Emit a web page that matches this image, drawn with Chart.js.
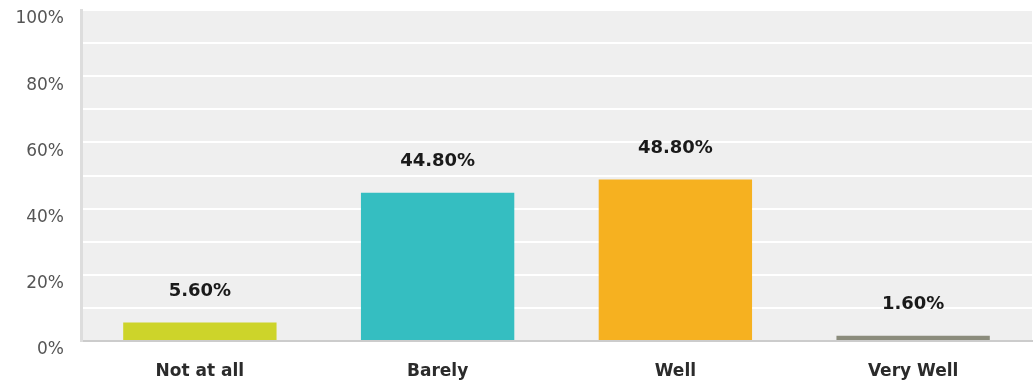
<!DOCTYPE html>
<html lang="en">
<head>
    <meta charset="UTF-8">
    <title>Survey Responses</title>
    <script src="https://cdn.jsdelivr.net/npm/chart.js"></script>
    <style>
        body {
            margin: 0;
            padding: 0;
            background: #fff;
        }
        .wrap {
            width: 1035px;
            height: 383px;
        }
    </style>
</head>
<body>
    <div class="wrap">
        <canvas id="answerChart" width="1035" height="383"></canvas>
    </div>

    <script>
        const categories = ["Not at all", "Barely", "Well", "Very Well"];
        const percentages = [5.6, 44.8, 48.8, 1.6];
        const barColors = ["#cdd42a", "#35bec1", "#f6b120", "#8b8c7c"];

        // grey plot background
        const plotBg = {
            id: 'plotBg',
            beforeDraw(chart) {
                const { ctx, chartArea: a } = chart;
                ctx.save();
                ctx.fillStyle = '#efefef';
                ctx.fillRect(a.left, a.top, a.right - a.left, a.bottom - a.top);
                ctx.restore();
            }
        };

        // percentage above each bar
        const valueLabels = {
            id: 'valueLabels',
            afterDatasetsDraw(chart) {
                const { ctx } = chart;
                const meta = chart.getDatasetMeta(0);
                ctx.save();
                ctx.font = 'bold 18px "DejaVu Sans", Verdana, sans-serif';
                ctx.fillStyle = '#1a1a1a';
                ctx.textAlign = 'center';
                ctx.textBaseline = 'middle';
                meta.data.forEach((bar, i) => {
                    ctx.fillText(percentages[i].toFixed(2) + '%', bar.x, bar.y - 31);
                });
                ctx.restore();
            }
        };

        new Chart(document.getElementById('answerChart'), {
            type: 'bar',
            data: {
                labels: categories,
                datasets: [{
                    data: percentages,
                    backgroundColor: barColors,
                    borderWidth: 0,
                    barPercentage: 0.645,
                    categoryPercentage: 1
                }]
            },
            options: {
                responsive: false,
                animation: false,
                layout: { padding: { top: 10, right: 3, left: 0, bottom: 0 } },
                plugins: {
                    legend: { display: false },
                    tooltip: { enabled: false }
                },
                scales: {
                    x: {
                        grid: { display: false },
                        border: { color: '#cccccc', width: 2 },
                        ticks: {
                            color: '#2b2b2b',
                            padding: 12,
                            font: { family: '"DejaVu Sans", Verdana, sans-serif', size: 17, weight: 'bold' }
                        },
                        afterFit(scale) {
                            scale.height = 42;
                            scale.paddingLeft = 0;
                            scale.paddingRight = 0;
                        }
                    },
                    y: {
                        min: 0,
                        max: 100,
                        ticks: {
                            stepSize: 10,
                            color: '#555555',
                            padding: 17,
                            labelOffset: 9,
                            font: { family: '"DejaVu Sans", Verdana, sans-serif', size: 17 },
                            callback: (v) => (v % 20 === 0 ? v + '%' : '')
                        },
                        grid: {
                            color: '#ffffff',
                            lineWidth: 2,
                            drawTicks: false
                        },
                        border: { color: '#dddddd', width: 3 },
                        afterFit(scale) {
                            scale.width = 81;
                            scale.paddingTop = 0;
                            scale.paddingBottom = 0;
                        }
                    }
                }
            },
            plugins: [plotBg, valueLabels]
        });
    </script>
</body>
</html>
